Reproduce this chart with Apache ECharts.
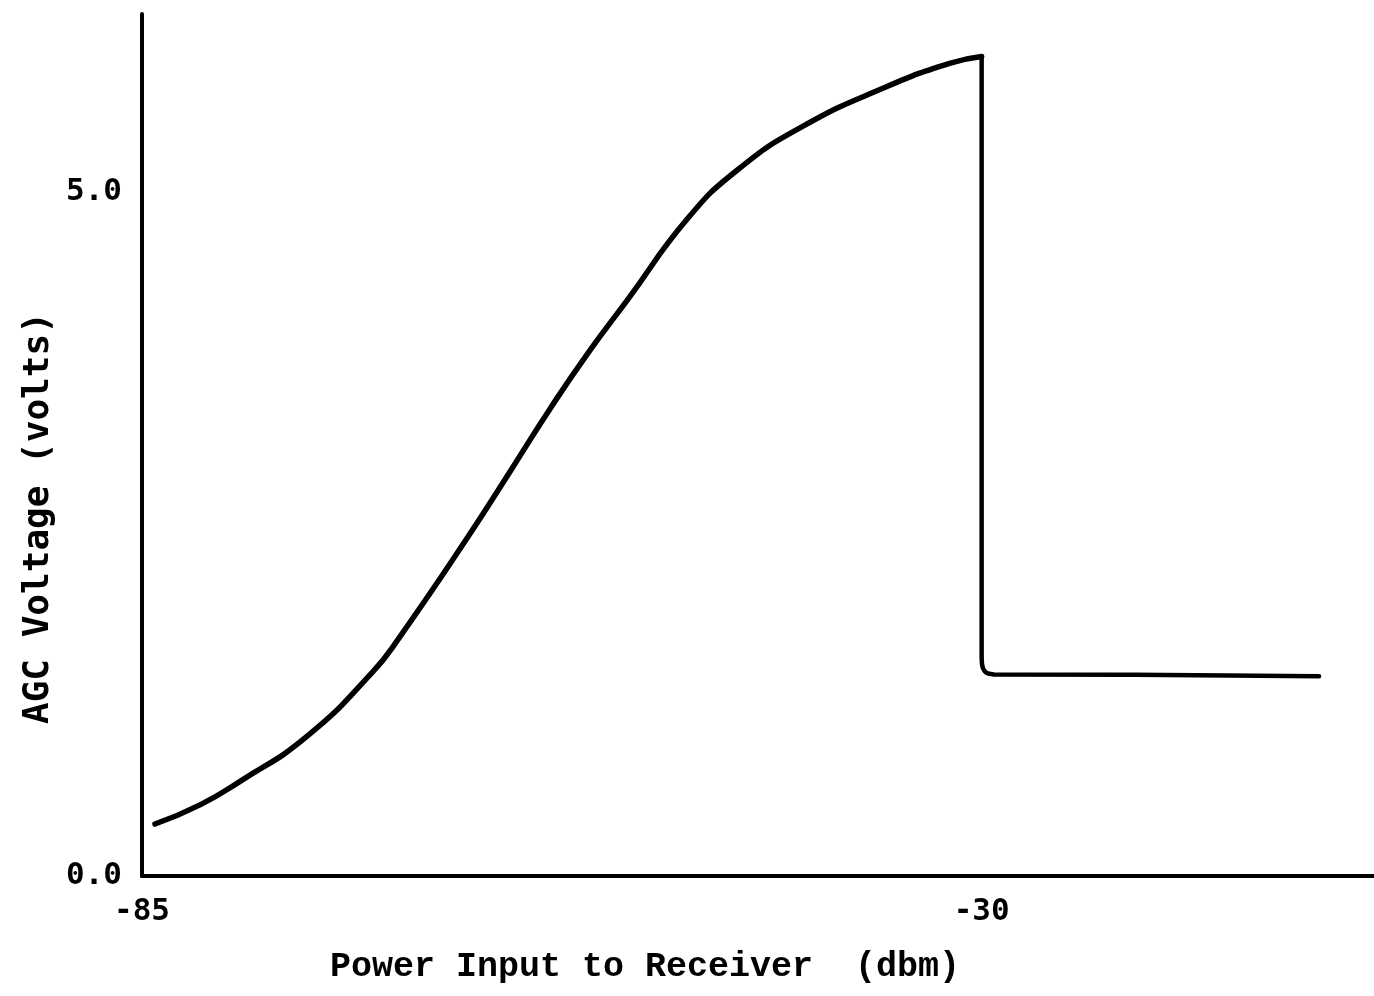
<!DOCTYPE html>
<html>
<head>
<meta charset="utf-8">
<title>AGC Voltage</title>
<script src="https://cdn.jsdelivr.net/npm/echarts@6/dist/echarts.min.js"></script>
<style>
  html, body { margin: 0; padding: 0; background: #fff; }
  #agc_line { width: 1374px; height: 996px; }
</style>
</head>
<body>
<div id="agc_line"></div>
<script>
// 曲线部分 (dbm -> volts)
var powerIn = [-84.15, -81.2, -78.6, -74.2, -69.9, -68.1, -63.7, -60.7, -58.3, -55.8, -53.2, -49.3, -46.0, -41.7, -36.2, -32.1, -30.0];
var agcVolts = [0.38, 0.52, 0.69, 1.02, 1.49, 1.75, 2.47, 2.99, 3.41, 3.82, 4.21, 4.80, 5.16, 5.48, 5.77, 5.94, 5.99];
// -30 dbm 之后的跌落和平台
var dropIn = [-30.0, -30.0, -29.98, -29.92, -29.82, -29.68, -29.5, -29.2, -20.0, -7.9];
var dropVolts = [5.99, 1.60, 1.55, 1.52, 1.50, 1.485, 1.478, 1.473, 1.47, 1.46];
// 刻度标签
var xLabels = [-85, -30];
var yLabels = [0, 5];

var monoFont = '"DejaVu Sans Mono", "Liberation Mono", monospace';
var typeFont = '"Liberation Mono", "DejaVu Sans Mono", monospace';

function zip(xs, ys) {
  var res = [];
  for (var i = 0; i < xs.length; i++) res.push([xs[i], ys[i]]);
  return res;
}

var agc_line = echarts.init(document.getElementById('agc_line'));
var option = {
  backgroundColor: '#fff',
  animation: false,
  grid: { left: 142, right: 0, top: 14, bottom: 120 },
  xAxis: {
    type: 'value',
    min: -85,
    max: -4.3,
    interval: 5,
    axisLine: { lineStyle: { color: '#000', width: 4 } },
    axisTick: { show: false },
    splitLine: { show: false },
    axisLabel: {
      margin: 20,
      color: '#000',
      fontFamily: monoFont,
      fontWeight: 'bold',
      fontSize: 31,
      showMaxLabel: false,
      formatter: function (v) {
        return xLabels.indexOf(Math.round(v)) > -1 && Math.abs(v - Math.round(v)) < 1e-6 ? String(v) : '';
      }
    }
  },
  yAxis: {
    type: 'value',
    min: 0,
    max: 6.3,
    interval: 5,
    axisLine: { lineStyle: { color: '#000', width: 4 } },
    axisTick: { show: false },
    splitLine: { show: false },
    axisLabel: {
      margin: 20,
      color: '#000',
      fontFamily: monoFont,
      fontWeight: 'bold',
      fontSize: 31,
      showMaxLabel: false,
      formatter: function (v) {
        return yLabels.indexOf(v) > -1 ? v.toFixed(1) : '';
      }
    }
  },
  series: [
    {
      type: 'line',
      data: zip(powerIn, agcVolts),
      smooth: 0.5,
      showSymbol: false,
      lineStyle: { color: '#000', width: 5.5, cap: 'round', join: 'round' }
    },
    {
      type: 'line',
      data: zip(dropIn, dropVolts),
      showSymbol: false,
      lineStyle: { color: '#000', width: 4.5, cap: 'round', join: 'round' }
    }
  ],
  graphic: [
    {
      type: 'text',
      left: 330,
      top: 950,
      style: { text: 'Power Input to Receiver  (dbm)', fill: '#000', font: 'bold 35px ' + typeFont }
    },
    {
      type: 'text',
      x: 21,
      y: 724,
      rotation: Math.PI / 2,
      style: { text: 'AGC Voltage (volts)', fill: '#000', font: 'bold 36px ' + monoFont }
    }
  ]
};
agc_line.setOption(option);
</script>
</body>
</html>
